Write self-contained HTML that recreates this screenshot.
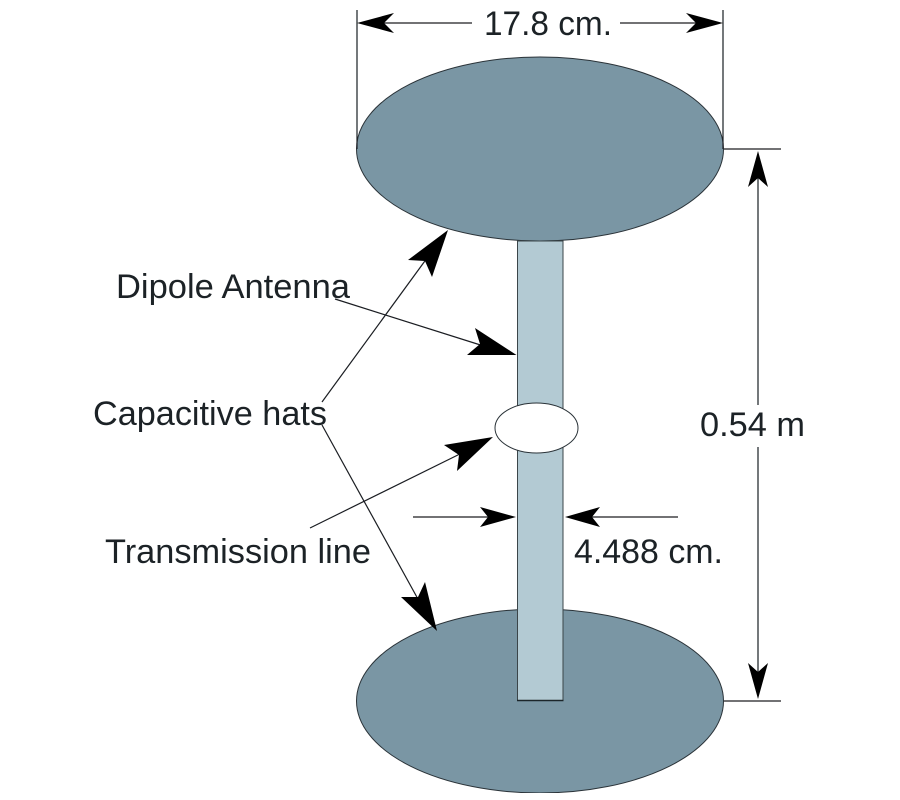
<!DOCTYPE html>
<html><head><meta charset="utf-8"><style>
html,body{margin:0;padding:0;background:#fff}
svg{display:block}
text{font-family:"Liberation Sans",Arial,sans-serif;font-size:34px;fill:#1b2227}
</style></head><body>
<svg width="900" height="800" viewBox="0 0 900 800" xmlns="http://www.w3.org/2000/svg">
<defs><filter id="b" x="0" y="0" width="100%" height="100%"><feGaussianBlur stdDeviation="0.35"/></filter></defs>
<g filter="url(#b)">
<ellipse cx="540" cy="149" rx="183.5" ry="92" fill="#7a96a4" stroke="#2a3338" stroke-width="1"/>
<ellipse cx="540" cy="701" rx="183.5" ry="92" fill="#7a96a4" stroke="#2a3338" stroke-width="1"/>
<rect x="517.5" y="241" width="45.5" height="459.5" fill="#b3cad3" stroke="#3a4549" stroke-width="1"/>
<path d="M517 700.5H563.5" stroke="#1f272b" stroke-width="1.4"/>
<ellipse cx="536.5" cy="428" rx="41.5" ry="25" fill="#fff" stroke="#2a3338" stroke-width="1"/>
<g stroke="#1a1f22" stroke-width="1.2" fill="none">
<path d="M357 10V149M723 10V149"/>
<path d="M365 23H472M620 23H715"/>
<path d="M724 149H781M724 701H781"/>
<path d="M758 170V405M758 447V680"/>
<path d="M413 517H495M585 517H678"/>
<path d="M335 299L490 348"/>
<path d="M322 402L430 254"/>
<path d="M322 425L424 610"/>
<path d="M310 528L470 449"/>
</g>
<g fill="#000">
<polygon points="357,23 394,13 384,23 394,33"/>
<polygon points="723,23 686,13 696,23 686,33"/>
<polygon points="758,151 748,187 758,178 768,187"/>
<polygon points="758,699 748,663 758,672 768,663"/>
<polygon points="516,517 480,507 488,517 480,527"/>
<polygon points="565,517 600,507 592,517 600,527"/>
<polygon points="516.5,355 475,328 480,344 467,355"/>
<polygon points="448,230 408,260 425,261 432,277"/>
<polygon points="437,631 401,597 418,597 425,582"/>
<polygon points="493,437 444,445 459,455 457,471"/>
</g>
<text x="484" y="35" textLength="128" lengthAdjust="spacingAndGlyphs">17.8 cm.</text>
<text x="116" y="298" textLength="234" lengthAdjust="spacingAndGlyphs">Dipole Antenna</text>
<text x="93" y="425" textLength="234" lengthAdjust="spacingAndGlyphs">Capacitive hats</text>
<text x="105" y="563" textLength="266" lengthAdjust="spacingAndGlyphs">Transmission line</text>
<text x="700" y="436" textLength="105" lengthAdjust="spacingAndGlyphs">0.54 m</text>
<text x="574" y="563" textLength="149" lengthAdjust="spacingAndGlyphs">4.488 cm.</text>
</g>
</svg>
</body></html>
